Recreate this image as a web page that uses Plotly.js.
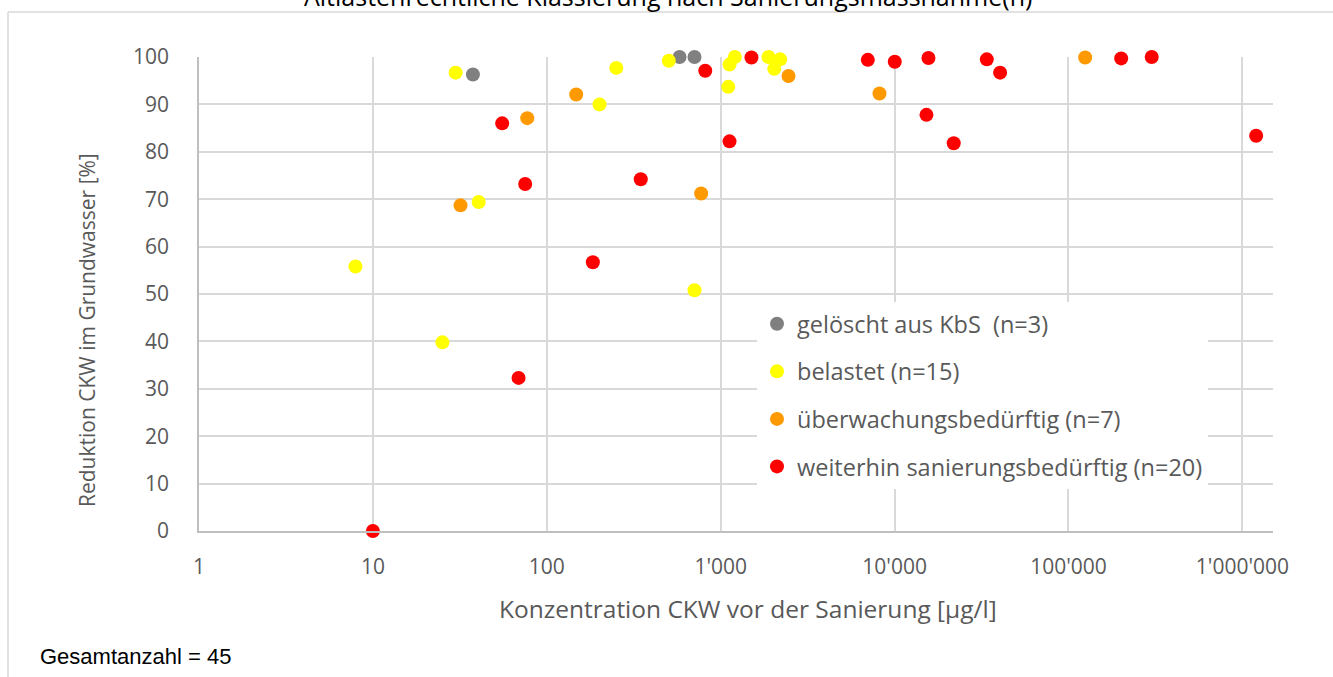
<!DOCTYPE html>
<html>
<head>
<meta charset="utf-8">
<script src="https://cdn.plot.ly/plotly-3.0.1.min.js"></script>
<style>html,body{margin:0;padding:0;background:#fff;}#chart{width:1333px;height:677px;}</style>
</head>
<body>
<div id="chart"></div>
<script>
// ---- data ----
const seriesNames = [
  "gelöscht aus KbS  (n=3)",
  "belastet (n=15)",
  "überwachungsbedürftig (n=7)",
  "weiterhin sanierungsbedürftig (n=20)"
];
const geloeschtX = [37.6, 580, 707];
const geloeschtY = [96.3, 100, 100];
const belastetX = [29.9, 40.6, 7.94, 25.1, 707, 251, 201, 503, 1124, 1206, 1105, 1883, 2199, 2033];
const belastetY = [96.7, 69.4, 55.8, 39.8, 50.8, 97.7, 90.0, 99.2, 98.4, 100, 93.7, 100, 99.5, 97.5];
const ueberwachungX = [147.6, 77.2, 31.9, 772, 2454, 8185, 124700];
const ueberwachungY = [92.1, 87.1, 68.7, 71.2, 96.0, 92.3, 99.9];
const sanierungX = [55.4, 75.1, 68.8, 10, 1124, 347, 184, 815, 1503, 7015, 10020, 15660, 33900, 40430, 200900, 301000, 15250, 21880, 1200000];
const sanierungY = [86.0, 73.2, 32.3, 0, 82.2, 74.2, 56.7, 97.1, 99.9, 99.4, 99.0, 99.8, 99.5, 96.7, 99.7, 100, 87.8, 81.8, 83.4];

const xTickVals = [1, 10, 100, 1000, 10000, 100000, 1000000];
const xTickText = ["1", "10", "100", "1'000", "10'000", "100'000", "1'000'000"];
const yTickVals = [0, 10, 20, 30, 40, 50, 60, 70, 80, 90, 100];

const titleText = "Altlastenrechtliche Klassierung nach Sanierungsmassnahme(n)";
const xTitle = "Konzentration CKW vor der Sanierung [µg/l]";
const yTitle = "Reduktion CKW im Grundwasser [%]";
const noteText = "Gesamtanzahl = 45";

// ---- styling ----
const colors = ["#808080", "#FFFF00", "#FF9900", "#FF0000"];
const FONT = "'Open Sans', Lato, sans-serif";
const TXT = "#595959";
const FS = 21;
const MS = 14;

const xs = [geloeschtX, belastetX, ueberwachungX, sanierungX];
const ys = [geloeschtY, belastetY, ueberwachungY, sanierungY];

const traces = seriesNames.map((n, i) => ({
  type: "scatter",
  mode: "markers",
  name: n,
  x: xs[i],
  y: ys[i],
  legendgroup: "g" + i,
  cliponaxis: false,
  marker: { color: colors[i], size: MS, line: { width: 0 } },
  hoverinfo: "x+y+name"
}));

const L = 199, R = 60, T = 57, B = 146, W = 1333, H = 677;
const pw = W - L - R, ph = H - T - B;
const px2x = p => (p - L) / pw;
const py2y = p => (H - B - p) / ph;

const layout = {
  width: W, height: H,
  margin: { l: L, r: R, t: T, b: B, pad: 0 },
  paper_bgcolor: "#fff",
  plot_bgcolor: "#fff",
  font: { family: FONT, color: TXT, size: FS },
  showlegend: true,
  legend: {
    x: px2x(757), y: py2y(302), xanchor: "left", yanchor: "top",
    bgcolor: "#ffffff",
    font: { family: FONT, color: TXT, size: 23.5 },
    traceorder: "grouped",
    tracegroupgap: 14,
    itemwidth: 30
  },
  xaxis: {
    type: "log",
    range: [0, 6.176],
    tickvals: xTickVals,
    ticktext: xTickText,
    showgrid: true,
    gridcolor: "#d9d9d9",
    gridwidth: 1.5,
    showline: true,
    linecolor: "#bfbfbf",
    linewidth: 1.5,
    zeroline: false,
    ticks: "",
    ticklabelstandoff: 16,
    tickfont: { family: FONT, color: TXT, size: FS }
  },
  yaxis: {
    range: [0, 100],
    tickvals: yTickVals,
    showgrid: true,
    gridcolor: "#d9d9d9",
    gridwidth: 1.5,
    showline: true,
    linecolor: "#bfbfbf",
    linewidth: 1.5,
    zeroline: false,
    ticks: "",
    ticklabelstandoff: 24,
    tickfont: { family: FONT, color: TXT, size: FS }
  },
  shapes: [
    { type: "line", xref: "paper", yref: "paper", x0: px2x(8), x1: px2x(1340), y0: py2y(12), y1: py2y(12),
      line: { color: "#d9d9d9", width: 1.5 }, layer: "below" },
    { type: "line", xref: "paper", yref: "paper", x0: px2x(8), x1: px2x(8), y0: py2y(12), y1: py2y(690),
      line: { color: "#d9d9d9", width: 1.5 }, layer: "below" }
  ],
  annotations: [
    { text: titleText, xref: "paper", yref: "paper", x: px2x(668), y: py2y(-4),
      xanchor: "center", yanchor: "middle", showarrow: false,
      font: { family: FONT, color: "#000", size: 25 } },
    { text: xTitle, xref: "paper", yref: "paper", x: px2x(748), y: py2y(608),
      xanchor: "center", yanchor: "middle", showarrow: false,
      font: { family: FONT, color: TXT, size: 24.5 } },
    { text: yTitle, xref: "paper", yref: "paper", x: px2x(87), y: py2y(330),
      xanchor: "center", yanchor: "middle", showarrow: false, textangle: -90,
      font: { family: FONT, color: TXT, size: FS } },
    { text: noteText, xref: "paper", yref: "paper", x: px2x(38), y: py2y(656),
      xanchor: "left", yanchor: "middle", showarrow: false,
      font: { family: "'Liberation Sans', Arial, sans-serif", color: "#000", size: 22 } }
  ]
};

Plotly.newPlot("chart", traces, layout, { displayModeBar: false, responsive: false });
</script>
</body>
</html>
